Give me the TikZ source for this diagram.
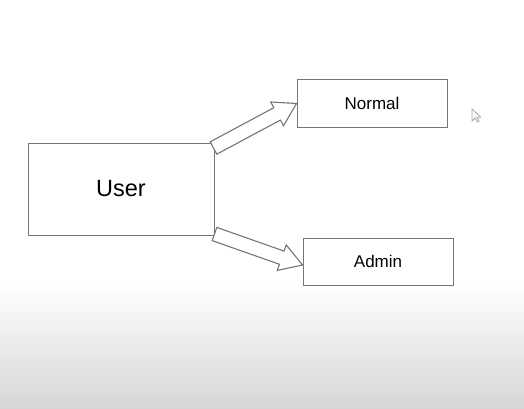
\documentclass[tikz,border=0pt]{standalone}
\usepackage{fontspec}
\setmainfont{Liberation Sans}
\usetikzlibrary{calc}
\definecolor{edge}{RGB}{118,118,118}
\definecolor{bottomgray}{RGB}{214,214,214}
\begin{document}
\begin{tikzpicture}[x=1pt,y=-1pt,
  box/.style={draw=edge,line width=1pt,fill=white,inner sep=0pt},
  fatarrow/.style={draw=edge,line width=1.1pt,fill=white,line join=miter}]
\useasboundingbox (0,0) rectangle (524,409);
\fill[white] (0,0) rectangle (524,409);
\shade[top color=white,bottom color=bottomgray] (0,284) rectangle (524,409);
% boxes
\node[box,minimum width=186pt,minimum height=92pt,font=\fontsize{23.5}{28}\selectfont] (user) at (121,189) {User};
\node[box,minimum width=150pt,minimum height=47pt,font=\fontsize{17}{20}\selectfont] (normal) at (372,103.5) {Normal};
\node[box,minimum width=150pt,minimum height=47pt,font=\fontsize{17}{20}\selectfont] (admin) at (378,261.5) {Admin};
% arrow end points
\coordinate (s1) at ($(user.north east)+(-1,5.5)$);
\coordinate (e1) at (normal.west);
\coordinate (s2) at ($(user.south east)+(0,-1.5)$);
\coordinate (e2) at ($(admin.west)+(0,3.5)$);
% block arrows
\foreach \s/\e in {s1/e1,s2/e2}{
  \coordinate (h) at ($(\e)!22pt!(\s)$);
  \draw[fatarrow]
    ($(\s)!7pt!90:(\e)$) --
    ($(h)!7pt!-90:(\s)$) --
    ($(h)!13.5pt!-90:(\s)$) --
    (\e) --
    ($(h)!13.5pt!90:(\s)$) --
    ($(h)!7pt!90:(\s)$) --
    ($(\s)!7pt!-90:(\e)$) -- cycle;
}
% mouse cursor
\coordinate (cur) at (472,109);
\draw[draw=gray!70,line width=0.8pt,fill=white,line join=round]
  (cur) -- ++(0,12) -- ++(3,-3) -- ++(2.5,4) -- ++(1.5,-1) -- ++(-2.3,-3.8) -- ++(4,0) -- cycle;
\end{tikzpicture}
\end{document}
